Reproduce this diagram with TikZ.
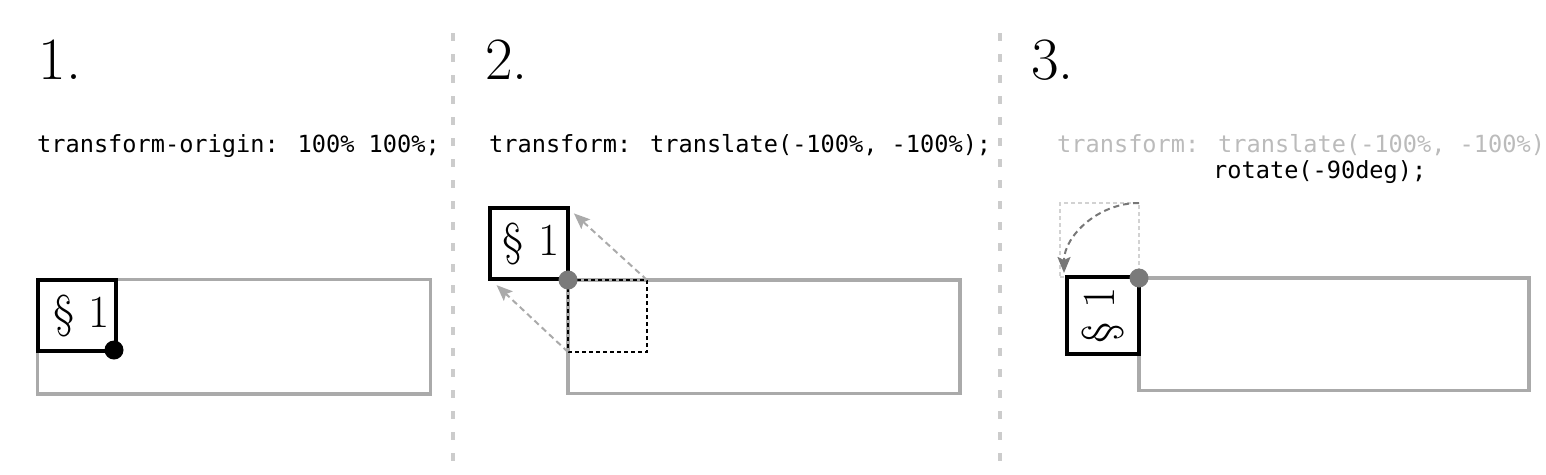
\documentclass[tikz,border=0pt]{standalone}
\usepackage{fontspec}
\newfontfamily\codefont{DejaVu Sans Mono}
\usetikzlibrary{arrows.meta}
\definecolor{rectgray}{HTML}{AAAAAA}
\definecolor{divgray}{HTML}{CCCCCC}
\definecolor{dotgray}{HTML}{7A7A7A}
\definecolor{codegray}{HTML}{BBBBBB}
\definecolor{arcgray}{HTML}{777777}
\definecolor{sqgray}{HTML}{D2D2D2}
\begin{document}
\begin{tikzpicture}[x=1pt,y=-1pt,
  heading/.style={anchor=base west, inner sep=0pt, font=\fontsize{60pt}{72pt}\selectfont},
  code/.style={anchor=base west, inner sep=0pt, font=\codefont\fontsize{23.6pt}{28pt}\selectfont},
  holder/.style={draw=rectgray, line width=3.5pt, inner sep=0pt, outer sep=0pt},
  para/.style={draw=black, line width=4pt, inner sep=0pt, outer sep=0pt, fill=white,
    font=\fontsize{46pt}{55pt}\selectfont, minimum width=78pt, minimum height=71pt},
  dot/.style={circle, inner sep=0pt, outer sep=0pt, minimum size=19pt},
  divider/.style={draw=divgray, line width=4pt, dash pattern=on 8pt off 13pt},
  ghost/.style={inner sep=0pt, outer sep=0pt, line width=1.5pt, dash pattern=on 4pt off 3pt},
  garrow/.style={draw=rectgray, line width=2pt, dash pattern=on 6pt off 4pt,
    -{Stealth[length=16pt,width=13pt,inset=3pt]}},
  arcarrow/.style={draw=arcgray, line width=2pt, dash pattern=on 6pt off 4pt,
    -{Stealth[length=16pt,width=13pt,inset=3pt]}}
]
\useasboundingbox (0,0) rectangle (1546,474);

% dividers
\coordinate (v1a) at (453,33);
\coordinate (v1b) at (453,466);
\coordinate (v2a) at (1000,33);
\coordinate (v2b) at (1000,466);
\draw[divider] (v1a) -- (v1b);
\draw[divider] (v2a) -- (v2b);

% headings
\node[heading] (h1) at (38.5,79) {1.};
\node[heading] (h2) at (485,79) {2.};
\node[heading] (h3) at (1031,79) {3.};

% code
\node[code] (c1) at (37,152) {transform-origin: 100\% 100\%;};
\node[code] (c2) at (489,152) {transform: translate(-100\%, -100\%);};
\node[code, text=codegray] (c3a) at (1057,152) {transform: translate(-100\%, -100\%)};
\node[code] (c3b) at (1213,178) {rotate(-90deg);};

% panel 1
\node[holder, minimum width=393pt, minimum height=114.5pt] (r1) at (234,336.75) {};
\node[para] (b1) at (77,315.5) {\hspace*{10pt}\S~1};
\node[dot, fill=black] (d1) at ([shift={(-2,-1)}]b1.south east) {};

% panel 2
\node[holder, minimum width=392pt, minimum height=113.5pt] (r2) at (764,336.75) {};
\node[ghost, draw=black, minimum width=79pt, minimum height=72pt] (g2) at (607.5,316) {};
\node[para] (b2) at (529,243.5) {\hspace*{4pt}\S~1};
\node[dot, fill=dotgray] (d2) at (r2.north west) {};
\draw[garrow, shorten >=8pt] (g2.north east) -- (b2.north east);
\draw[garrow, shorten >=9pt] (g2.south west) -- (b2.south west);

% panel 3
\node[holder, minimum width=390pt, minimum height=112.5pt] (r3) at (1334,334.25) {};
\node[ghost, draw=sqgray, minimum width=79pt, minimum height=74pt] (g3) at (1099.5,240) {};
\node[para, rotate=90, minimum width=77pt, minimum height=72pt] (b3) at (1103,315.5) {\S~1};
\node[dot, fill=dotgray] (d3) at (r3.north west) {};
\draw[arcarrow, shorten >=5pt] (g3.north east) arc[start angle=-90, end angle=-180, radius=75];
\end{tikzpicture}
\end{document}
